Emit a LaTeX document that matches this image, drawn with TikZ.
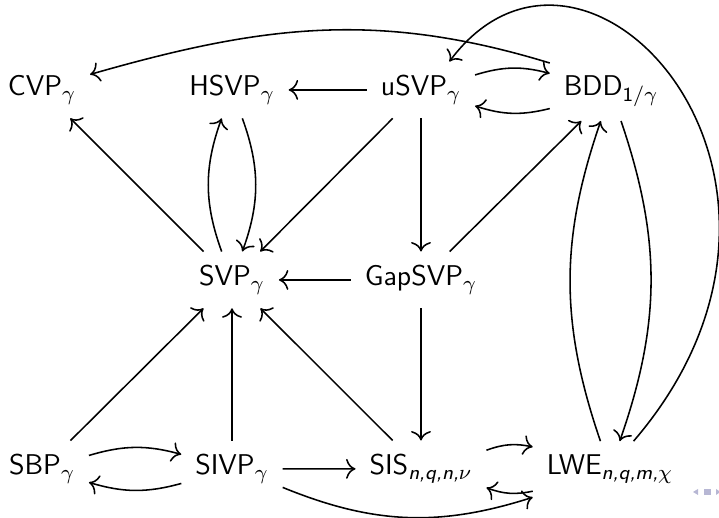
\documentclass[tikz,border=0pt]{standalone}
\usepackage{amsmath}
\usetikzlibrary{arrows.meta,calc}

\begin{document}
\begin{tikzpicture}[
  x=0.385pt, y=0.385pt,
  prob/.style={font=\sffamily\fontsize{11}{13}\selectfont, inner sep=5.2pt, anchor=base},
  arr/.style={-{Computer Modern Rightarrow[scale=1.25]}, line width=0.6pt},
  navsym/.style={fill=blue!25!gray!45, draw=none},
]
\useasboundingbox (0,0) rectangle (719,518);

% problems, laid out on a 4-column grid
\node[prob] (cvp)  at (42,422)  {CVP$_\gamma$};
\node[prob] (hsvp) at (232,422) {HSVP$_\gamma$};
\node[prob] (usvp) at (421,422) {uSVP$_\gamma$};
\node[prob] (bdd)  at (611,422) {BDD$_{\text{1}/\gamma}$};

\node[prob] (svp)  at (232,232) {SVP$_\gamma$};
\node[prob] (gap)  at (421,232) {GapSVP$_\gamma$};

\node[prob] (sbp)  at (42,43)   {SBP$_\gamma$};
\node[prob] (sivp) at (232,43)  {SIVP$_\gamma$};
\node[prob] (sis)  at (421,43)  {SIS$_{\text{\itshape n,q,n,}\nu}$};
\node[prob] (lwe)  at (610,43)  {LWE$_{\text{\itshape n,q,m,}\chi}$};

% reductions: top row
\draw[arr] (bdd.155) to[out=163,in=16,looseness=1.0] (cvp.18);
\draw[arr] (usvp) -- (hsvp);
\draw[arr] (usvp) to[bend left=16] (bdd);
\draw[arr] (bdd) to[bend left=16] (usvp);
\draw[arr] (lwe.50) .. controls ($(lwe.50)+(225,262)$) and ($(usvp.45)+(136,182)$) .. (usvp.45);

% reductions between top and middle rows
\draw[arr] (svp) -- (cvp);
\draw[arr] (svp) to[bend left=20] (hsvp);
\draw[arr] (hsvp) to[bend left=20] (svp);
\draw[arr] (usvp) -- (svp);
\draw[arr] (usvp) -- (gap);
\draw[arr] (gap) -- (bdd);
\draw[arr] (gap) -- (svp);

% reductions involving the bottom row
\draw[arr] (gap) -- (sis);
\draw[arr] (lwe) to[bend left=19] (bdd);
\draw[arr] (bdd) to[bend left=19] (lwe);
\draw[arr] (sbp) -- (svp);
\draw[arr] (sivp) -- (svp);
\draw[arr] (sis) -- (svp);
\draw[arr] (sbp) to[bend left=16] (sivp);
\draw[arr] (sivp) to[bend left=16] (sbp);
\draw[arr] (sivp) -- (sis);
\draw[arr] (sivp) to[bend right=20] (lwe);
\draw[arr] (sis) to[bend left=16] (lwe);
\draw[arr] (lwe) to[bend left=16] (sis);

% navigation symbols in the corner
\fill[navsym] (693,26) -- (698,29) -- (698,23) -- cycle;
\fill[navsym] (704,23) rectangle (711,29);
\fill[navsym] (716,23) -- (716,29) -- (719,27) -- (719,25) -- cycle;
\end{tikzpicture}
\end{document}
